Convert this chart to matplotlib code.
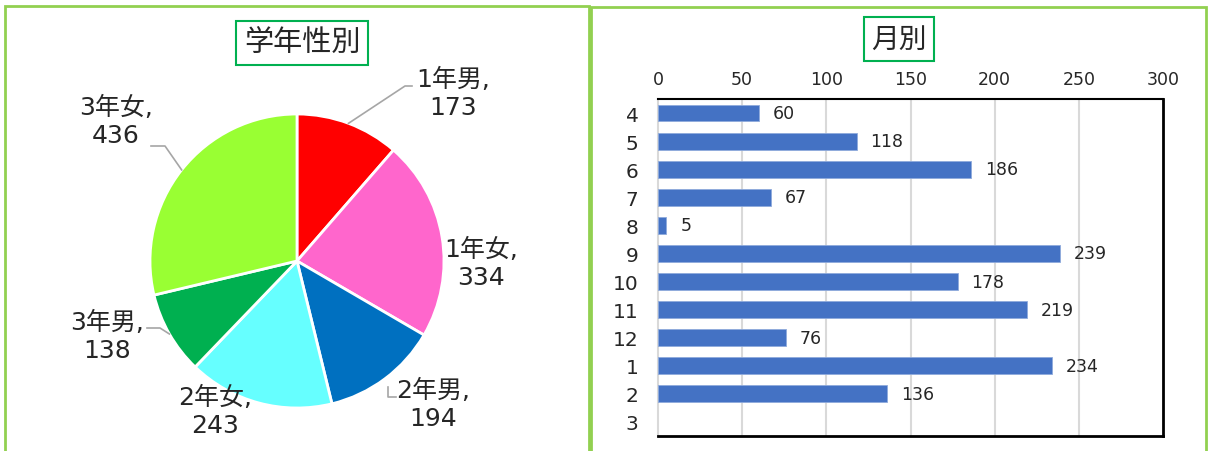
import numpy as np
import matplotlib
matplotlib.use("Agg")
import matplotlib.pyplot as plt
from matplotlib.patches import Rectangle

plt.rcParams['font.family'] = ['DejaVu Sans', 'Noto Sans CJK JP']

# ---- data ----
pie_labels = ["1年男", "1年女", "2年男", "2年女", "3年男", "3年女"]
pie_values = [173, 334, 194, 243, 138, 436]
pie_colors = ["#FF0000", "#FF66CC", "#0070C0", "#66FFFF", "#00B050", "#99FF33"]

months = ["4", "5", "6", "7", "8", "9", "10", "11", "12", "1", "2", "3"]
month_values = [60, 118, 186, 67, 5, 239, 178, 219, 76, 234, 136, 0]
x_ticks = [0, 50, 100, 150, 200, 250, 300]

W, H = 1209, 452
fig = plt.figure(figsize=(W / 100, H / 100), dpi=100)

def fx(px):
    return px / W

def fy(py):
    return 1 - py / H

# panel borders
panel_green = "#92D050"
fig.patches.append(Rectangle((fx(5), fy(470)), fx(589) - fx(5), fy(7) - fy(470),
                             transform=fig.transFigure, fill=False,
                             edgecolor=panel_green, lw=2, zorder=0))
fig.patches.append(Rectangle((fx(591), fy(470)), fx(1206) - fx(591), fy(8) - fy(470),
                             transform=fig.transFigure, fill=False,
                             edgecolor=panel_green, lw=2, zorder=0))

# ---- pie ----
axp = fig.add_axes([0, 0, 590 / W, 1])
cx, cy, r = 297, H - 262, 147
wedges, _ = axp.pie(pie_values, colors=pie_colors, startangle=90, counterclock=False,
                    center=(cx, cy), radius=r,
                    wedgeprops=dict(edgecolor="white", linewidth=2))
axp.set_xlim(0, 590)
axp.set_ylim(0, H)
axp.set_aspect('auto')
axp.axis('off')

label_pos = [(453, 94), (481, 264), (433, 405), (215, 412), (107, 337), (116, 122)]
for lab, val, (lx, ly) in zip(pie_labels, pie_values, label_pos):
    axp.text(lx, H - ly, f"{lab},\n{val}", ha="center", va="center",
             fontsize=18, linespacing=1.2, color="#262626")

# leader lines
total = sum(pie_values)
cum = np.cumsum([0] + pie_values)
mids = [90 - 360 * (cum[i] + pie_values[i] / 2) / total for i in range(len(pie_values))]

def edge(i):
    a = np.deg2rad(mids[i])
    return cx + r * np.cos(a), cy + r * np.sin(a)

lc = "#A6A6A6"
ex, ey = edge(0)
axp.plot([ex, 405, 412], [ey, H - 87, H - 87], color=lc, lw=1.2)
axp.plot([388, 388, 396], [H - 388, H - 398, H - 398], color=lc, lw=1.2)
ex, ey = edge(4)
axp.plot([ex, 160, 147], [ey, H - 329, H - 329], color=lc, lw=1.2)
ex, ey = edge(5)
axp.plot([ex, 165, 151], [ey, H - 147, H - 147], color=lc, lw=1.2)

fig.text(fx(302), fy(44), "学年性別", ha="center", va="center", fontsize=21,
         color="#262626", family=['Noto Sans CJK JP'],
         bbox=dict(boxstyle="square,pad=0.25", facecolor="white",
                   edgecolor="#00B050", lw=1.5))

# ---- bars ----
left, right, top, bottom = 658, 1163, 100, 437
axb = fig.add_axes([fx(left), fy(bottom), fx(right) - fx(left), fy(top) - fy(bottom)])
ypos = np.arange(len(months))
vals = np.array(month_values)
nz = vals > 0
axb.barh(ypos[nz], vals[nz], height=0.6, color="#4472C4", edgecolor="#8FAADC",
         linewidth=0.6, zorder=3)
axb.set_ylim(len(months) - 0.5, -0.5)
axb.set_xlim(0, 300)
axb.set_yticks(ypos)
axb.set_yticklabels(months, fontsize=14.5, color="#262626")
axb.set_xticks(x_ticks)
axb.set_xticklabels([str(t) for t in x_ticks], fontsize=12.5, color="#262626")
axb.xaxis.tick_top()
axb.tick_params(axis="both", length=0)
axb.tick_params(axis="x", pad=8)
axb.tick_params(axis="y", pad=14)
for t in x_ticks[1:-1]:
    axb.axvline(t, color="#D9D9D9", lw=1.5, zorder=1)
for s in axb.spines.values():
    s.set_color("black")
    s.set_linewidth(1.5)
axb.spines["left"].set_color("#D9D9D9")
axb.spines["right"].set_linewidth(2)
axb.spines["bottom"].set_linewidth(2)
for i, v in enumerate(month_values):
    if v > 0:
        axb.annotate(str(v), (v, i), xytext=(10, 0), textcoords="offset points",
                     ha="left", va="center", fontsize=12.5, color="#262626")

fig.text(fx(899), fy(40), "月別", ha="center", va="center", fontsize=20,
         color="#262626", family=['Noto Sans CJK JP'],
         bbox=dict(boxstyle="square,pad=0.25", facecolor="white",
                   edgecolor="#00B050", lw=1.5))

fig.savefig("out.png", dpi=100)
